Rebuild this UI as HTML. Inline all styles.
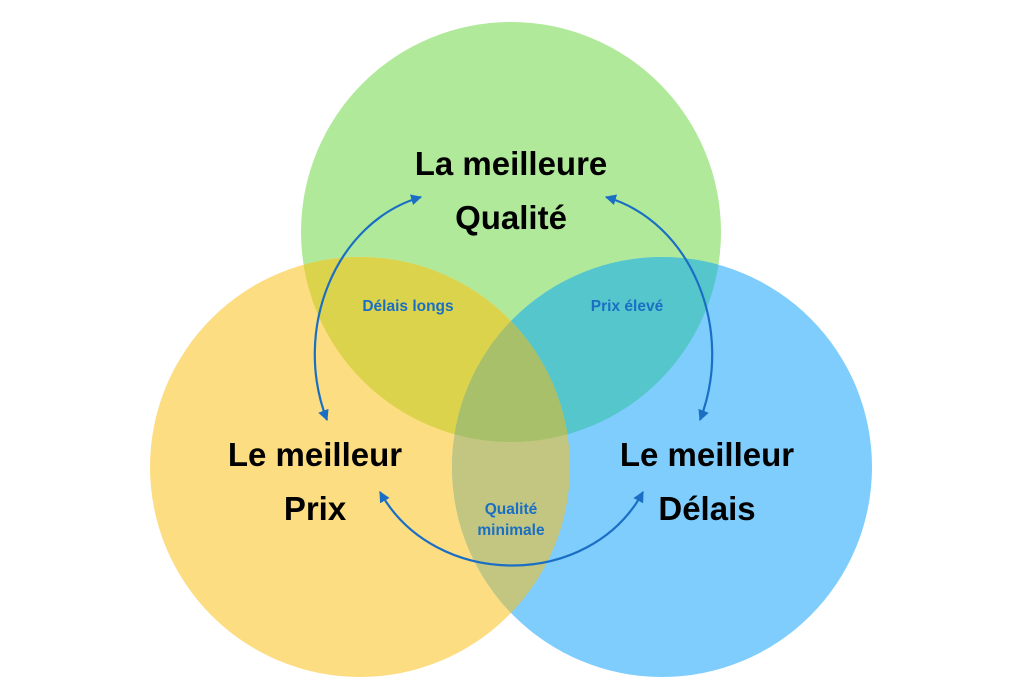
<!DOCTYPE html>
<html><head><meta charset="utf-8"><style>
body{margin:0;background:#fff;}
svg{display:block}
text{font-family:"Liberation Sans",Arial,sans-serif;font-weight:bold;text-anchor:middle}
</style></head><body>
<svg width="1022" height="700" viewBox="0 0 1022 700">
<defs>
<clipPath id="g"><circle cx="511" cy="232" r="210"/></clipPath>
<clipPath id="y"><circle cx="360" cy="467" r="210"/></clipPath>
<clipPath id="b"><circle cx="662" cy="467" r="210"/></clipPath>
<marker id="a" viewBox="0 0 10 10" refX="9" refY="5" markerWidth="5" markerHeight="5" orient="auto-start-reverse"><path d="M0,0 L10,5 L0,10 z" fill="#1a6fc4"/></marker>
</defs>
<circle cx="511" cy="232" r="210" fill="#b0e99a"/>
<circle cx="360" cy="467" r="210" fill="#fddd82"/>
<circle cx="662" cy="467" r="210" fill="#7ecdfc"/>
<circle cx="360" cy="467" r="210" fill="#dbd34c" clip-path="url(#g)"/>
<circle cx="662" cy="467" r="210" fill="#55c6cc" clip-path="url(#g)"/>
<circle cx="662" cy="467" r="210" fill="#c2c680" clip-path="url(#y)"/>
<g clip-path="url(#g)"><circle cx="662" cy="467" r="210" fill="#a9c06a" clip-path="url(#y)"/></g>
<g fill="none" stroke="#1a6fc4" stroke-width="2.2" marker-start="url(#a)" marker-end="url(#a)">
<path d="M421,197 C335,222 292,330 327,420"/>
<path d="M606,197 C692,222 735,330 700,420"/>
<path d="M380,492 C435,590 590,590 643,492"/>
</g>
<g font-size="33" fill="#000">
<text x="511" y="175">La meilleure</text>
<text x="511" y="229">Qualité</text>
<text x="315" y="466">Le meilleur</text>
<text x="315" y="520">Prix</text>
<text x="707" y="466">Le meilleur</text>
<text x="707" y="520">Délais</text>
</g>
<g font-size="15.5" fill="#1a6fc4">
<text x="408" y="311">Délais longs</text>
<text x="627" y="311">Prix élevé</text>
<text x="511" y="514">Qualité</text>
<text x="511" y="535">minimale</text>
</g>
</svg>
</body></html>
